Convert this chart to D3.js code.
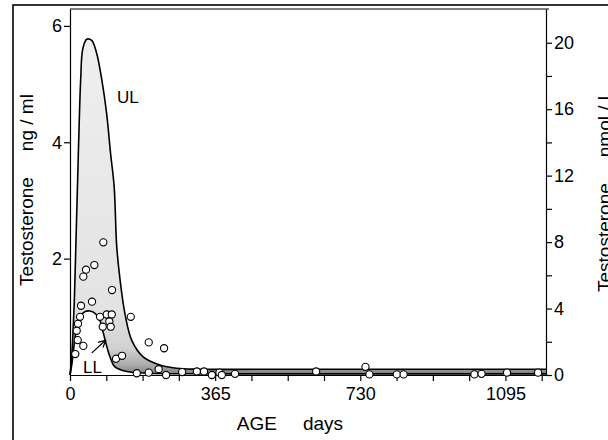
<!DOCTYPE html>
<html>
<head>
<meta charset="utf-8">
<script src="https://cdn.jsdelivr.net/npm/d3@7"></script>
<style>
  body { margin: 0; background: #fff; }
  text { font-family: 'Liberation Sans', Arial, Helvetica, sans-serif; fill: #000; }
</style>
</head>
<body>
<div id="chart"></div>
<script>
// Upper limit (UL) of the reference band, ng/ml
const ulDays = [0, 3, 7, 11, 15, 19, 23, 27, 32, 42, 54.5, 67, 80, 92, 102, 111, 117.5, 126, 138, 155, 184, 226, 268, 327, 600, 900, 1197]
const ulValues = [0, 0.2, 0.65, 1.3, 2.3, 3.3, 4.3, 5.1, 5.6, 5.77, 5.75, 5.53, 5.07, 4.5, 3.81, 3.24, 2.21, 1.63, 1.06, 0.6, 0.31, 0.17, 0.115, 0.1, 0.1, 0.1, 0.1]

// Lower limit (LL), ng/ml
const llDays = [0, 5, 10, 17, 25, 38, 50, 63, 74, 82, 90.6, 100.7, 113, 143, 200, 400, 800, 1197]
const llValues = [0, 0.2, 0.5, 0.83, 1.0, 1.09, 1.1, 1.06, 0.96, 0.77, 0.54, 0.31, 0.14, 0.06, 0.03, 0.02, 0.02, 0.02]

// individual measurements
const pointDays = [83.8, 61.2, 40.3, 33.5, 105.7, 55.4, 27.7, 25.2, 20.1, 16.9, 19.4, 33.5, 13.3, 75.5, 92.4, 105,
  98.9, 82.3, 102.4, 152.8, 198, 236.6, 115.8, 130.9, 168, 198, 223, 241.6, 282, 319, 337, 356.7, 375.8, 381.8,
  415, 619, 743, 753, 822, 839, 1017, 1035, 1099, 1177]
const pointValues = [2.28, 1.89, 1.81, 1.69, 1.46, 1.26, 1.19, 1.0, 0.88, 0.76, 0.6, 0.5, 0.36, 1.0, 1.04, 1.04,
  0.92, 0.83, 0.83, 1.0, 0.56, 0.46, 0.28, 0.33, 0.03, 0.04, 0.1, 0.0, 0.05, 0.06, 0.06, 0.0, 0.04, 0.0,
  0.02, 0.06, 0.14, 0.01, 0.01, 0.01, 0.01, 0.02, 0.04, 0.04]

const leftTicks = [2, 4, 6]
const rightTicks = [0, 2, 4, 6, 8, 10, 12, 14, 16, 18, 20]
const rightLabels = [0, 4, 8, 12, 16, 20]
const ageTicks = [0, 91.25, 182.5, 273.75, 365, 456.25, 547.5, 638.75, 730, 821.25, 912.5, 1003.75, 1095, 1186.25]
const ageLabels = [0, 365, 730, 1095]

const margin = { top: 9, right: 62, bottom: 65, left: 70 }
const width = 608 - margin.left - margin.right
const height = 375 - margin.top

const root = d3
  .select('#chart')
  .append('svg')
  .attr('width', 608)
  .attr('height', 440)

// outer frame
root
  .append('rect')
  .attr('x', 13)
  .attr('y', 5)
  .attr('width', 620)
  .attr('height', 460)
  .attr('fill', 'none')
  .attr('stroke', '#000')
  .attr('stroke-width', 1.6)

const svg = root
  .append('g')
  .attr('transform', 'translate(' + margin.left + ',' + margin.top + ')')

const xScale = d3.scaleLinear().domain([0, 1197]).range([0, width])
const yScale = d3.scaleLinear().domain([0, 6.29]).range([height, 0])
const yScaleRight = d3.scaleLinear().domain([0, 22.03]).range([height, 0])

const defs = root.append('defs')
const grad = defs
  .append('linearGradient')
  .attr('id', 'band')
  .attr('gradientUnits', 'userSpaceOnUse')
  .attr('x1', 0)
  .attr('x2', 0)
  .attr('y1', yScale(5.8))
  .attr('y2', yScale(0))
grad.append('stop').attr('offset', '0%').attr('stop-color', '#efefef')
grad.append('stop').attr('offset', '80%').attr('stop-color', '#e3e3e3')
grad.append('stop').attr('offset', '92%').attr('stop-color', '#d2d2d2')
grad.append('stop').attr('offset', '97%').attr('stop-color', '#ababab')
grad.append('stop').attr('offset', '100%').attr('stop-color', '#7c7c7c')

const ul = ulDays.map((d, i) => [d, ulValues[i]])
const ll = llDays.map((d, i) => [d, llValues[i]])

const line = d3
  .line()
  .x(d => xScale(d[0]))
  .y(d => yScale(d[1]))
  .curve(d3.curveCatmullRom.alpha(0.5))

const llBack = ll.slice().reverse()
const bandPath = line(ul) + 'L' + line(llBack).slice(1) + 'Z'

svg
  .append('path')
  .attr('d', bandPath)
  .attr('fill', 'url(#band)')

svg
  .append('path')
  .attr('d', line(ul))
  .attr('fill', 'none')
  .attr('stroke', '#000')
  .attr('stroke-width', 1.6)

svg
  .append('path')
  .attr('d', line(ll))
  .attr('fill', 'none')
  .attr('stroke', '#000')
  .attr('stroke-width', 1.6)

// plot box
svg
  .append('line')
  .attr('x1', 0)
  .attr('x2', width + 3)
  .attr('y1', 0)
  .attr('y2', 0)
  .attr('stroke', '#000')
  .attr('stroke-width', 1.2)

const fontSize = '18px'

const yAxis = d3
  .axisLeft(yScale)
  .tickValues(leftTicks)
  .tickSize(6)
  .tickSizeOuter(0)
  .tickFormat(d3.format('d'))
svg.append('g').attr('class', 'axis y-axis').call(yAxis)

const yAxisRight = d3
  .axisRight(yScaleRight)
  .tickValues(rightTicks)
  .tickSize(6)
  .tickSizeOuter(0)
  .tickFormat(d => (rightLabels.includes(d) ? d : ''))
svg
  .append('g')
  .attr('class', 'axis y-axis-right')
  .attr('transform', 'translate(' + width + ',0)')
  .call(yAxisRight)

const xAxis = d3
  .axisBottom(xScale)
  .tickValues(ageTicks)
  .tickSize(6)
  .tickSizeOuter(0)
  .tickFormat(d => (ageLabels.includes(d) ? d : ''))
svg
  .append('g')
  .attr('class', 'axis x-axis')
  .attr('transform', 'translate(0,' + height + ')')
  .call(xAxis)

svg.selectAll('.axis path, .axis line').attr('stroke', '#000').attr('stroke-width', 1.2)
svg
  .selectAll('.axis text')
  .style('font-size', fontSize)
  .style('font-family', "'Liberation Sans', Arial, sans-serif")
  .attr('fill', '#000')
svg.selectAll('.y-axis text').attr('x', -8)
svg.selectAll('.y-axis-right text').attr('x', 8)
svg.selectAll('.x-axis text').attr('y', 12)

// measurements
svg
  .selectAll('circle')
  .data(pointDays.map((d, i) => [d, pointValues[i]]))
  .enter()
  .append('circle')
  .attr('cx', d => xScale(d[0]))
  .attr('cy', d => yScale(d[1]))
  .attr('r', 3.6)
  .attr('fill', '#fff')
  .attr('stroke', '#000')
  .attr('stroke-width', 1.1)

// UL / LL labels and arrow
svg
  .append('text')
  .attr('x', xScale(118))
  .attr('y', yScale(4.68))
  .style('font-size', '17px')
  .text('UL')

svg
  .append('text')
  .attr('x', xScale(33))
  .attr('y', yScale(0.03))
  .style('font-size', '17px')
  .text('LL')

defs
  .append('marker')
  .attr('id', 'arrow')
  .attr('viewBox', '0 0 10 10')
  .attr('refX', 9)
  .attr('refY', 5)
  .attr('markerWidth', 9)
  .attr('markerHeight', 9)
  .attr('markerUnits', 'userSpaceOnUse')
  .attr('orient', 'auto')
  .append('path')
  .attr('d', 'M1,1L9,5L1,9')
  .attr('fill', 'none')
  .attr('stroke', '#000')
  .attr('stroke-width', 1.4)

svg
  .append('line')
  .attr('x1', xScale(55))
  .attr('y1', yScale(0.38))
  .attr('x2', xScale(90))
  .attr('y2', yScale(0.6))
  .attr('stroke', '#000')
  .attr('stroke-width', 1.3)
  .attr('marker-end', 'url(#arrow)')

// axis titles
svg
  .append('text')
  .attr('x', width / 2 - 18)
  .attr('y', height + 55)
  .attr('text-anchor', 'middle')
  .style('font-size', '19px')
  .text('AGE')
  .append('tspan')
  .attr('dx', 26)
  .text('days')

svg
  .append('text')
  .attr('transform', 'translate(-37,' + (height / 2 - 2) + ') rotate(-90)')
  .attr('text-anchor', 'middle')
  .style('font-size', '19px')
  .text('Testosterone')
  .append('tspan')
  .attr('dx', 26)
  .text('ng / ml')

svg
  .append('text')
  .attr('transform', 'translate(' + (width + 65) + ',' + (height / 2 + 2) + ') rotate(-90)')
  .attr('text-anchor', 'middle')
  .style('font-size', '19px')
  .text('Testosterone')
  .append('tspan')
  .attr('dx', 26)
  .text('nmol / l')
</script>
</body>
</html>
